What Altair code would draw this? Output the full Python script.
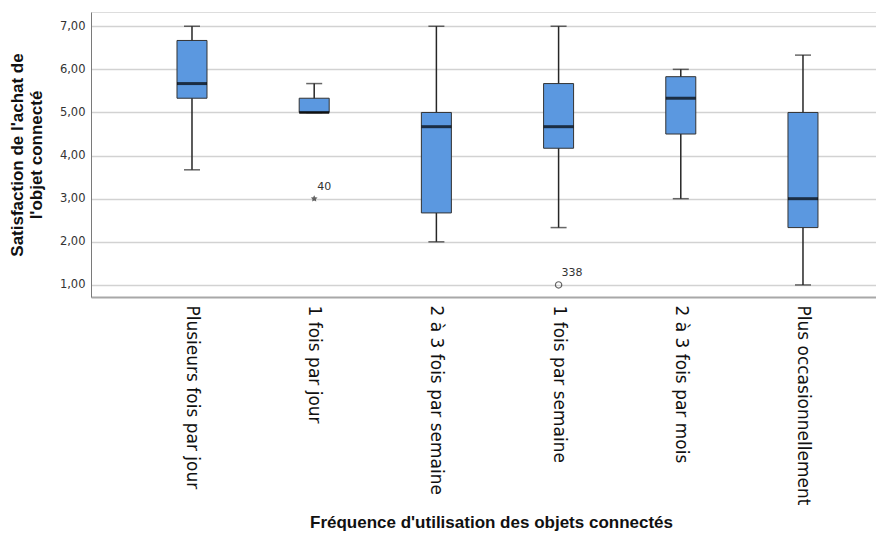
import altair as alt
import pandas as pd

categories = ["Plusieurs fois par jour", "1 fois par jour", "2 à 3 fois par semaine",
              "1 fois par semaine", "2 à 3 fois par mois", "Plus occasionnellement"]
mins = [3.67, 5.00, 2.00, 2.33, 3.00, 1.00]
q1s = [5.33, 5.00, 2.67, 4.17, 4.50, 2.33]
medians = [5.67, 5.00, 4.67, 4.67, 5.33, 3.00]
q3s = [6.67, 5.33, 5.00, 5.67, 5.83, 5.00]
maxs = [7.00, 5.67, 7.00, 7.00, 6.00, 6.33]

outlier_cat = ["1 fois par jour", "1 fois par semaine"]
outlier_val = [3.00, 1.00]
outlier_label = ["40", "338"]
outlier_kind = ["extreme", "outlier"]

box = pd.DataFrame({"cat": categories, "lo": mins, "q1": q1s, "med": medians,
                    "q3": q3s, "hi": maxs})
out = pd.DataFrame({"cat": outlier_cat, "val": outlier_val, "lab": outlier_label,
                    "kind": outlier_kind})

FILL = "#5b98e0"
DARK = "#262626"

xscale = alt.Scale(domain=categories, paddingInner=0, paddingOuter=0.212, align=0.77)
yscale = alt.Scale(domain=[0.72, 7.33], nice=False, zero=False)

xenc = alt.X("cat:N", scale=xscale, sort=categories,
             axis=alt.Axis(title="Fréquence d'utilisation des objets connectés",
                           labelAngle=90, labelAlign="left", labelBaseline="middle",
                           labelPadding=8, labelFont="DejaVu Sans", labelFontSize=17,
                           labelLimit=400, labelColor="#111111", ticks=False,
                           domainColor="#a8a8a8", domainWidth=2,
                           titleFont="Liberation Sans", titleFontSize=17,
                           titleFontWeight="bold", titleColor="#111111",
                           titleX=400, titleY=230, titleAlign="center",
                           titleBaseline="alphabetic", grid=False))

yaxis = alt.Axis(title=["Satisfaction de l'achat de", "l'objet connecté"],
                 values=[1, 2, 3, 4, 5, 6, 7],
                 labelExpr="replace(format(datum.value, '.2f'), '.', ',')",
                 labelFont="DejaVu Sans", labelFontSize=11.5, labelColor="#333333",
                 labelPadding=6, ticks=False, domainColor="#7a7a7a", domainWidth=1,
                 grid=True, gridColor="#d2d2d2", gridWidth=1.5,
                 titleFont="Liberation Sans", titleFontSize=17, titleFontWeight="bold",
                 titleColor="#111111", titleX=-82, titleBaseline="top",
                 titleLineHeight=19)

base = alt.Chart(box)

whisk = base.mark_rule(color=DARK, strokeWidth=1.5).encode(
    x=xenc, y=alt.Y("lo:Q", scale=yscale, axis=yaxis), y2="hi:Q")
cap_lo = base.mark_tick(color=DARK, size=16, thickness=1.5).encode(
    x=alt.X("cat:N", scale=xscale), y=alt.Y("lo:Q", scale=yscale))
cap_hi = base.mark_tick(color=DARK, size=16, thickness=1.5).encode(
    x=alt.X("cat:N", scale=xscale), y=alt.Y("hi:Q", scale=yscale))
bars = base.mark_bar(size=30, fill=FILL, stroke="#333333", strokeWidth=1).encode(
    x=alt.X("cat:N", scale=xscale), y=alt.Y("q1:Q", scale=yscale), y2="q3:Q")
med = base.mark_tick(color="#000000", size=30, thickness=3).encode(
    x=alt.X("cat:N", scale=xscale), y=alt.Y("med:Q", scale=yscale))

star_path = ("M0,-1L0.29,-0.4L0.95,-0.31L0.47,0.15L0.59,0.81L0,0.5L-0.59,0.81"
             "L-0.47,0.15L-0.95,-0.31L-0.29,-0.4Z")
obase = alt.Chart(out)
stars = obase.transform_filter(alt.datum.kind == "extreme").mark_point(
    shape=star_path, size=50, filled=True, color=DARK).encode(
    x=alt.X("cat:N", scale=xscale), y=alt.Y("val:Q", scale=yscale))
circles = obase.transform_filter(alt.datum.kind == "outlier").mark_point(
    shape="circle", size=40, filled=False, color=DARK, strokeWidth=1.2).encode(
    x=alt.X("cat:N", scale=xscale), y=alt.Y("val:Q", scale=yscale))
labels = obase.mark_text(align="left", baseline="middle", dx=3, dy=-12,
                         font="DejaVu Sans", fontSize=11, color="#333333").encode(
    x=alt.X("cat:N", scale=xscale), y=alt.Y("val:Q", scale=yscale), text="lab:N")

chart = alt.layer(whisk, cap_lo, cap_hi, bars, med, stars, circles, labels).properties(
    width=785, height=285,
    autosize=alt.AutoSizeParams(type="none"),
    padding={"left": 83, "top": 4, "right": 0, "bottom": 237},
).configure_view(stroke=None).configure(background="white")

chart.save("out.html", embed_options={"renderer": "svg", "actions": False})
